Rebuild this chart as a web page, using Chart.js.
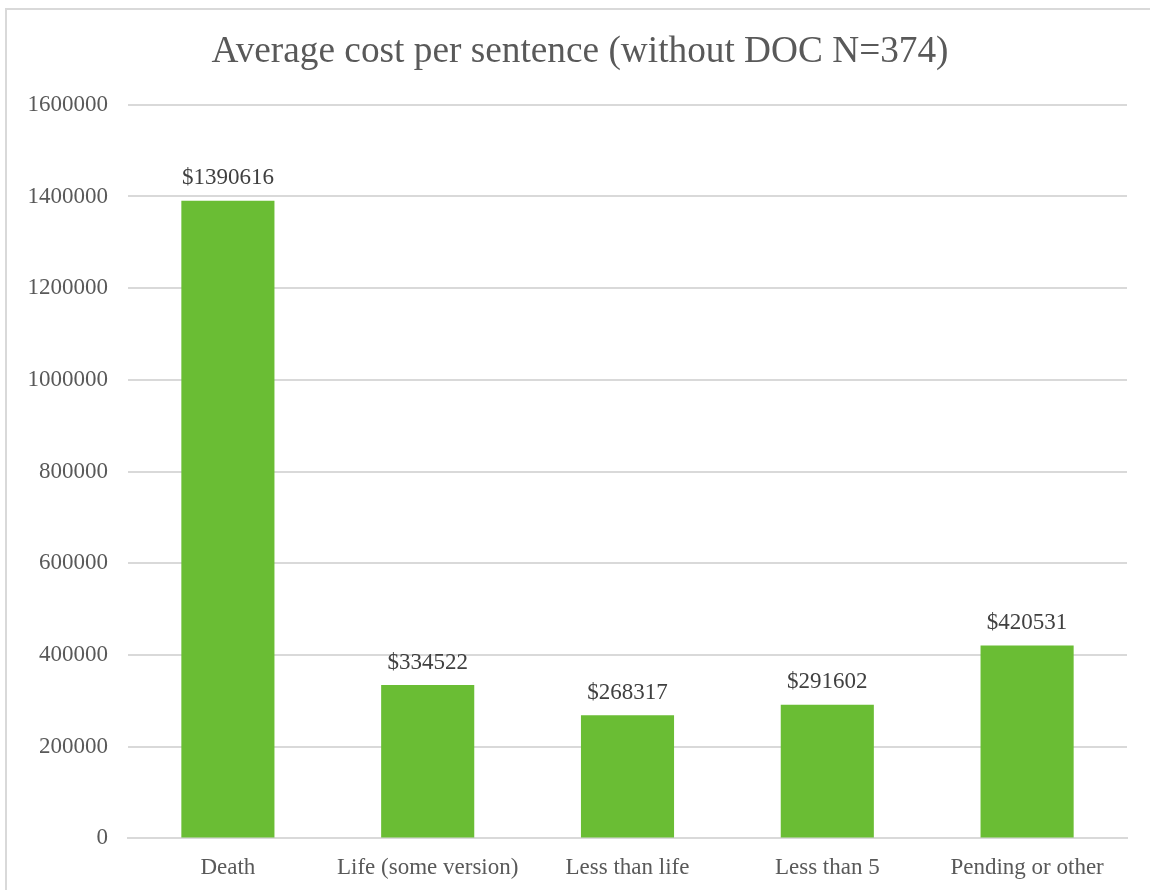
<!DOCTYPE html>
<html>
<head>
<meta charset="utf-8">
<script src="https://cdn.jsdelivr.net/npm/chart.js@4/dist/chart.umd.min.js"></script>
<style>
    html, body { margin: 0; padding: 0; background: #ffffff; overflow: hidden; }
    #frame {
        position: absolute; left: 5px; top: 8px; width: 1160px; height: 900px;
        border: 2px solid #d9d9d9; box-sizing: border-box;
    }
    #wrap { position: absolute; left: 0; top: 0; width: 1150px; height: 890px; }
</style>
</head>
<body>
<div id="frame"></div>
<div id="wrap"><canvas id="costChart" width="1150" height="890"></canvas></div>
<script>
// Chart data
const categories = ['Death', 'Life (some version)', 'Less than life', 'Less than 5', 'Pending or other'];
const avgCost = [1390616, 334522, 268317, 291602, 420531];
const yTicks = [0, 200000, 400000, 600000, 800000, 1000000, 1200000, 1400000, 1600000];

const textGray = '#595959';
const fontFamily = '"Liberation Serif", "Times New Roman", serif';

// Plugin to draw the $ value above each bar
const barValueLabels = {
    id: 'barValueLabels',
    afterLayout(chart) {
        // let the y tick labels run into the left padding without being clipped
        chart.scales.y.left = 0;
    },
    afterDatasetsDraw(chart) {
        const ctx = chart.ctx;
        const meta = chart.getDatasetMeta(0);
        ctx.save();
        ctx.font = `23px ${fontFamily}`;
        ctx.fillStyle = '#404040';
        ctx.textAlign = 'center';
        ctx.textBaseline = 'bottom';
        meta.data.forEach((bar, i) => {
            ctx.fillText('$' + avgCost[i], bar.x, bar.y - 11);
        });
        ctx.restore();
    }
};

const ctx = document.getElementById('costChart').getContext('2d');
const costChart = new Chart(ctx, {
    type: 'bar',
    data: {
        labels: categories,
        datasets: [{
            label: 'Average cost',
            data: avgCost,
            backgroundColor: '#6abd34',
            borderWidth: 0,
            categoryPercentage: 1,
            barPercentage: 0.466
        }]
    },
    options: {
        responsive: false,
        animation: false,
        layout: { padding: { left: 33, right: 23, top: 0, bottom: 0 } },
        plugins: {
            legend: { display: false },
            tooltip: { enabled: false },
            title: {
                display: true,
                text: 'Average cost per sentence (without DOC N=374)',
                color: textGray,
                font: { family: fontFamily, size: 37.3, weight: 'normal' },
                padding: { top: 30, bottom: 30 }
            }
        },
        scales: {
            x: {
                grid: { display: false },
                border: { color: '#d9d9d9', width: 2 },
                ticks: {
                    color: textGray,
                    font: { family: fontFamily, size: 23 },
                    padding: 8,
                    maxRotation: 0
                }
            },
            y: {
                min: 0,
                max: 1600000,
                afterFit: scale => { scale.width = 95; },
                afterBuildTicks: scale => { scale.ticks = yTicks.map(v => ({ value: v })); },
                grid: { color: '#d9d9d9', lineWidth: 2, drawTicks: false },
                border: { display: false },
                ticks: {
                    color: textGray,
                    font: { family: fontFamily, size: 23 },
                    padding: 20,
                    callback: value => String(value)
                }
            }
        }
    },
    plugins: [barValueLabels]
});
</script>
</body>
</html>
